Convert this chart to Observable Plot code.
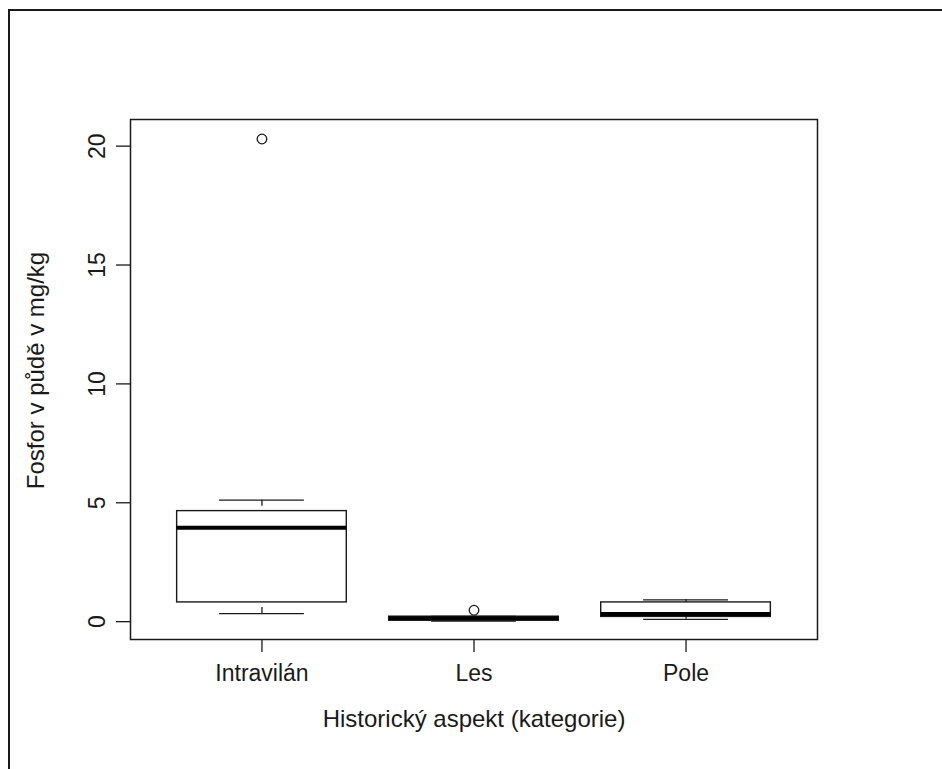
<!DOCTYPE html>
<html>
<head>
<meta charset="utf-8">
<script src="https://cdn.jsdelivr.net/npm/d3@7"></script>
<script src="https://cdn.jsdelivr.net/npm/@observablehq/plot@0.6"></script>
<style>
  html, body { margin: 0; padding: 0; background: #fff; }
  #wrap { position: relative; width: 942px; height: 769px; overflow: hidden; }
  #border { position: absolute; left: 8px; top: 9px; right: -10px; bottom: -10px;
            border-left: 2px solid #1a1a1a; border-top: 2px solid #1a1a1a; pointer-events: none; }
  svg { display: block; }
</style>
</head>
<body>
<div id="wrap"><div id="border"></div></div>
<script>
// Data
const categories    = ["Intravilán", "Les", "Pole"];
const lowerWhisker  = [0.34, 0.02, 0.10];
const q1            = [0.81, 0.04, 0.20];
const median        = [3.95, 0.14, 0.32];
const q3            = [4.65, 0.21, 0.81];
const upperWhisker  = [5.11, 0.22, 0.92];
const outlierCat    = ["Intravilán", "Les"];
const outlierValue  = [20.3, 0.48];
const yTicks        = [0, 5, 10, 15, 20];

const boxes = categories.map((c, i) => ({
  pos: i + 1, lw: lowerWhisker[i], q1: q1[i], med: median[i], q3: q3[i], uw: upperWhisker[i]
}));
const outliers = outlierCat.map((c, i) => ({pos: categories.indexOf(c) + 1, value: outlierValue[i]}));

const ink = "#1a1a1a";
const font = "Liberation Sans, Arial, sans-serif";

const chart = Plot.plot({
  width: 942,
  height: 769,
  marginLeft: 130,
  marginRight: 125,
  marginTop: 119,
  marginBottom: 130,
  style: {fontFamily: font, color: ink, background: "transparent"},
  x: {type: "linear", domain: [0.38, 3.62]},
  y: {domain: [-0.75, 21.12]},
  marks: [
    Plot.ruleX(boxes, {x: "pos", y1: "uw", y2: "q3", stroke: ink, strokeWidth: 1.3, strokeDasharray: "6,6"}),
    Plot.ruleX(boxes, {x: "pos", y1: "lw", y2: "q1", stroke: ink, strokeWidth: 1.3, strokeDasharray: "6,6"}),
    Plot.ruleY(boxes, {y: "uw", x1: d => d.pos - 0.2, x2: d => d.pos + 0.2, stroke: ink, strokeWidth: 1.3}),
    Plot.ruleY(boxes, {y: "lw", x1: d => d.pos - 0.2, x2: d => d.pos + 0.2, stroke: ink, strokeWidth: 1.3}),
    Plot.rect(boxes, {x1: d => d.pos - 0.4, x2: d => d.pos + 0.4, y1: "q1", y2: "q3", fill: "white", stroke: ink, strokeWidth: 1.4}),
    Plot.ruleY(boxes, {y: "med", x1: d => d.pos - 0.4, x2: d => d.pos + 0.4, stroke: "#000", strokeWidth: 4}),
    Plot.dot(outliers, {x: "pos", y: "value", r: 4.8, stroke: ink, strokeWidth: 1.3, fill: "none"}),
    Plot.frame({stroke: ink, strokeWidth: 1.5}),
    Plot.axisX({ticks: [1, 2, 3], tickFormat: d => categories[d - 1], tickSize: 13, tickPadding: 12,
                fontSize: 23, stroke: ink, strokeWidth: 1.3, label: null, fill: ink}),
    Plot.axisY({ticks: yTicks, tickSize: 14, tickFormat: () => "", label: null, stroke: ink, strokeWidth: 1.3}),
    Plot.text(yTicks, {y: d => d, text: d => String(d), frameAnchor: "left", rotate: -90, dx: -26,
                       textAnchor: "middle", lineAnchor: "bottom", fontSize: 23, fill: ink}),
    Plot.text(["Fosfor v půdě v mg/kg"], {frameAnchor: "left", rotate: -90, dx: -87, dy: -9,
                       textAnchor: "middle", lineAnchor: "bottom", fontSize: 24, fill: ink}),
    Plot.text(["Historický aspekt (kategorie)"], {frameAnchor: "bottom", dy: 70, lineAnchor: "top",
                       textAnchor: "middle", fontSize: 24, fill: ink})
  ]
});
document.getElementById("wrap").prepend(chart);
</script>
</body>
</html>
